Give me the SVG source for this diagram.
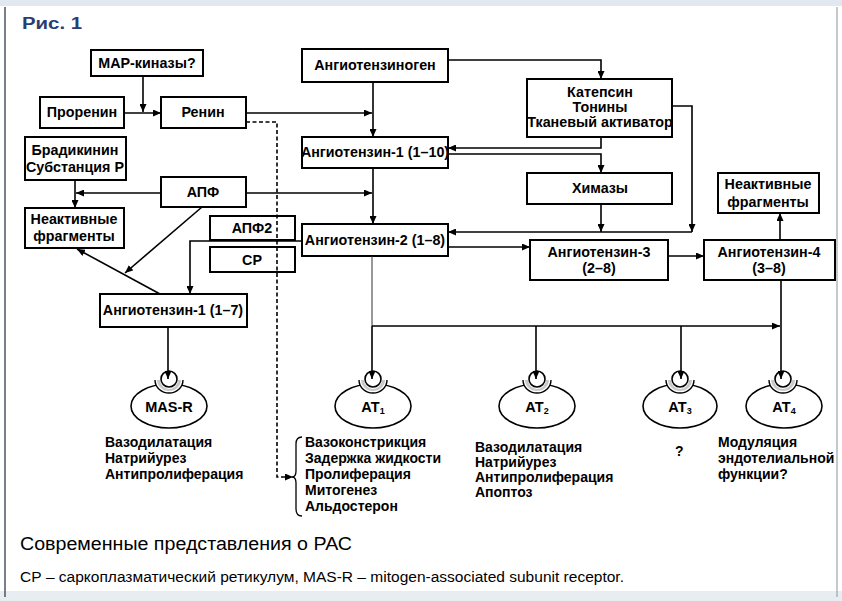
<svg xmlns="http://www.w3.org/2000/svg" width="842" height="601" viewBox="0 0 842 601">
<defs>
<marker id="ah" markerWidth="8" markerHeight="7" refX="8" refY="3.5" orient="auto" markerUnits="userSpaceOnUse">
<path d="M0,0 L8,3.5 L0,7 Z" fill="#000"/>
</marker>
<g id="cup">
<path fill="#fff" stroke="#000" stroke-width="1.4" d="M-14,-26 A14,13 0 0,0 14,-26"/>
<path fill="#c8c8c8" stroke="none" d="M-12,-26 A12,11 0 0,0 12,-26 L9,-26 A9,9 0 0,1 -9,-26 Z"/>
<circle cx="0" cy="-27" r="8" fill="#fff" stroke="#000" stroke-width="1.6"/>
</g>
<style>
.box{fill:#fff;stroke:#000;stroke-width:2}
.t{font-family:"Liberation Sans",Arial,sans-serif;font-weight:bold;font-size:14.3px;fill:#000;text-anchor:middle}
.e{font-family:"Liberation Sans",Arial,sans-serif;font-weight:bold;font-size:14px;fill:#000}
.c{fill:none;stroke:#000;stroke-width:1.6}
.a{marker-end:url(#ah)}
.d{stroke-dasharray:4 2.5}
.rc{fill:#fff;stroke:#000;stroke-width:1.6}
.rt{font-family:"Liberation Sans",Arial,sans-serif;font-weight:bold;font-size:14.5px;fill:#000;text-anchor:middle}
</style>
</defs>
<rect x="0" y="0" width="842" height="601" fill="#fff"/>
<rect x="0" y="0" width="842" height="6" fill="#e2e8ef"/>
<rect x="0" y="591" width="842" height="10" fill="#e8edf2"/>
<line x1="5" y1="7" x2="5" y2="597" stroke="#4b5563" stroke-width="1.5"/>
<line x1="837" y1="7" x2="837" y2="597" stroke="#8a939c" stroke-width="1"/>
<text x="22" y="29" font-family="Liberation Sans,Arial,sans-serif" font-weight="bold" font-size="16" fill="#2b3d6e" textLength="60" lengthAdjust="spacingAndGlyphs">Рис. 1</text>

<g id="n-mapk"><rect class="box" x="91" y="50" width="112" height="26"/><text class="t" x="147" y="68">МАР-киназы?</text></g>
<g id="n-prorenin"><rect class="box" x="40" y="97" width="84" height="31"/><text class="t" x="82" y="117">Проренин</text></g>
<g id="n-renin"><rect class="box" x="161" y="97" width="85" height="31"/><text class="t" x="203" y="117">Ренин</text></g>
<g id="n-brady"><rect class="box" x="25" y="137" width="101" height="43"/><text class="t" x="75" y="155">Брадикинин</text><text class="t" x="75" y="172">Субстанция Р</text></g>
<g id="n-apf"><rect class="box" x="161" y="177" width="85" height="30"/><text class="t" x="203" y="197">АПФ</text></g>
<g id="n-inact1"><rect class="box" x="25" y="208" width="99" height="40"/><text class="t" x="74" y="224">Неактивные</text><text class="t" x="74" y="241">фрагменты</text></g>
<g id="n-apf2"><rect class="box" x="210" y="216" width="85" height="24"/><text class="t" x="252" y="233">АПФ2</text></g>
<g id="n-sr"><rect class="box" x="210" y="247" width="85" height="25"/><text class="t" x="252" y="265">СР</text></g>
<g id="n-ang17"><rect class="box" x="100" y="294" width="147" height="33"/><text class="t" x="173" y="315">Ангиотензин-1 (1–7)</text></g>
<g id="n-angen"><rect class="box" x="302" y="49" width="146" height="33"/><text class="t" x="375" y="70">Ангиотензиноген</text></g>
<g id="n-ang110"><rect class="box" x="302" y="137" width="146" height="31"/><text class="t" x="375" y="157">Ангиотензин-1 (1–10)</text></g>
<g id="n-ang18"><rect class="box" x="302" y="224" width="146" height="32"/><text class="t" x="375" y="245">Ангиотензин-2 (1–8)</text></g>
<g id="n-katep"><rect class="box" x="527" y="79" width="145" height="58"/><text class="t" x="600" y="97">Катепсин</text><text class="t" x="600" y="112">Тонины</text><text class="t" x="600" y="127">Тканевый активатор</text></g>
<g id="n-chym"><rect class="box" x="527" y="173" width="145" height="31"/><text class="t" x="600" y="193">Химазы</text></g>
<g id="n-inact2"><rect class="box" x="718" y="173" width="101" height="40"/><text class="t" x="768" y="189">Неактивные</text><text class="t" x="768" y="207">фрагменты</text></g>
<g id="n-ang3"><rect class="box" x="530" y="240" width="138" height="40"/><text class="t" x="599" y="257">Ангиотензин-3</text><text class="t" x="599" y="273">(2–8)</text></g>
<g id="n-ang4"><rect class="box" x="704" y="240" width="131" height="40"/><text class="t" x="769" y="257">Ангиотензин-4</text><text class="t" x="769" y="273">(3–8)</text></g>

<g id="r-masr">
<ellipse class="rc" cx="169" cy="406" rx="38" ry="22"/>
<use href="#cup" x="169" y="406"/>
<text class="rt" x="169" y="412">MAS-R</text>
</g>
<g id="r-at1">
<ellipse class="rc" cx="373" cy="406" rx="38" ry="22"/>
<use href="#cup" x="373" y="406"/>
<text class="rt" x="373" y="412">AT<tspan font-size="9" dy="2">1</tspan></text>
</g>
<g id="r-at2">
<ellipse class="rc" cx="537" cy="406" rx="38" ry="22"/>
<use href="#cup" x="537" y="406"/>
<text class="rt" x="537" y="412">AT<tspan font-size="9" dy="2">2</tspan></text>
</g>
<g id="r-at3">
<ellipse class="rc" cx="680" cy="406" rx="37" ry="22"/>
<use href="#cup" x="680" y="406"/>
<text class="rt" x="680" y="412">AT<tspan font-size="9" dy="2">3</tspan></text>
</g>
<g id="r-at4">
<ellipse class="rc" cx="784" cy="406" rx="38" ry="22"/>
<use href="#cup" x="783" y="406"/>
<text class="rt" x="784" y="412">AT<tspan font-size="9" dy="2">4</tspan></text>
</g>

<g id="connectors">
<path class="c a" d="M143,76 V112"/>
<path class="c a" d="M124,113 H161"/>
<path class="c a" d="M246,113 H372"/>
<path class="c a" d="M373,82 V137"/>
<path class="c a d" d="M246,122 H277 V477 H293"/>
<path class="c a" d="M246,193 H372"/>
<path class="c a" d="M373,168 V224"/>
<path class="c a" d="M161,193 H76"/>
<path class="c a" d="M75,180 V208"/>
<path class="c a" d="M202,207 L125,273"/>
<path class="c a" d="M160,294 L77,249"/>
<path class="c a" d="M302,241 H190 V294"/>
<path class="c a" d="M448,60 H601 V79"/>
<path class="c a" d="M601,137 V148 H448"/>
<path class="c a" d="M448,154 H601 V173"/>
<path class="c a" d="M672,106 H692 V232"/>
<path class="c a" d="M692,232 H448"/>
<path class="c a" d="M601,204 V232"/>
<path class="c a" d="M448,247 H530"/>
<path class="c a" d="M668,256 H704"/>
<path class="c a" d="M780,240 V213"/>
<path class="c a" d="M781,280 V379"/>
<path fill="none" stroke="#333" stroke-width="1" d="M372,256 V326"/>
<path class="c a" d="M372,326 H780"/>
<path class="c a" d="M372,326 V379"/>
<path class="c a" d="M536,326 V379"/>
<path class="c a" d="M681,326 V379"/>
<path class="c a" d="M168,327 V379"/>
</g>

<g id="fx-masr">
<text class="e" x="105" y="447">Вазодилатация</text>
<text class="e" x="105" y="463">Натрийурез</text>
<text class="e" x="105" y="479">Антипролиферация</text>
</g>
<g id="fx-at1">
<path fill="none" stroke="#000" stroke-width="1.3" d="M302,437 Q296,437 296,444 V471 Q296,477 292,477 Q296,477 296,483 V509 Q296,516 302,516"/>
<text class="e" x="305" y="447">Вазоконстрикция</text>
<text class="e" x="305" y="463">Задержка жидкости</text>
<text class="e" x="305" y="479">Пролиферация</text>
<text class="e" x="305" y="495">Митогенез</text>
<text class="e" x="305" y="511">Альдостерон</text>
</g>
<g id="fx-at2">
<text class="e" x="475" y="452">Вазодилатация</text>
<text class="e" x="475" y="467">Натрийурез</text>
<text class="e" x="475" y="482">Антипролиферация</text>
<text class="e" x="475" y="497">Апоптоз</text>
</g>
<g id="fx-at3"><text class="e" x="675" y="456">?</text></g>
<g id="fx-at4">
<text class="e" x="718" y="447">Модуляция</text>
<text class="e" x="718" y="463">эндотелиальной</text>
<text class="e" x="718" y="479">функции?</text>
</g>

<text x="20" y="550" font-family="Liberation Sans,Arial,sans-serif" font-size="18" fill="#000" textLength="332" lengthAdjust="spacingAndGlyphs">Современные представления о РАС</text>
<text x="20" y="582" font-family="Liberation Sans,Arial,sans-serif" font-size="14" fill="#000" textLength="604" lengthAdjust="spacingAndGlyphs">СР – саркоплазматический ретикулум, MAS-R – mitogen-associated subunit receptor.</text>
</svg>
